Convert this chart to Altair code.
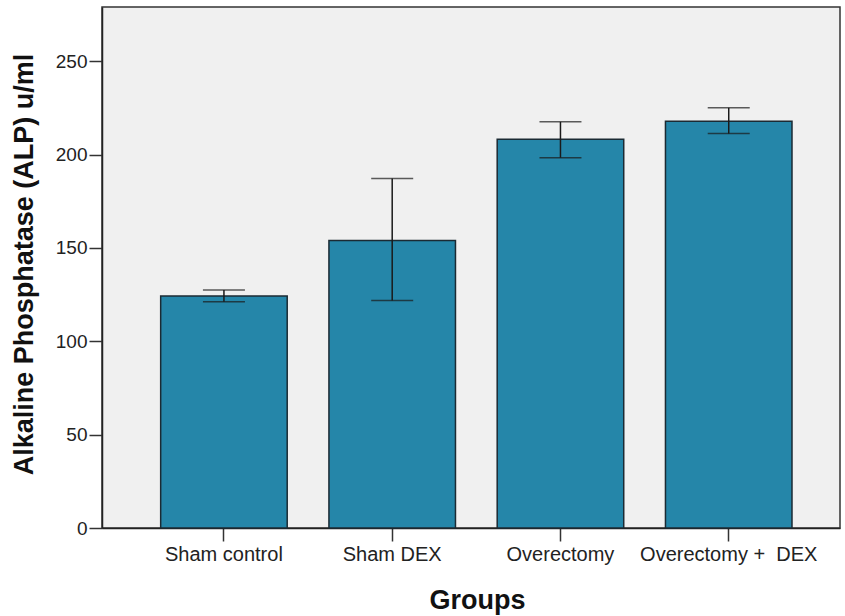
import altair as alt
import pandas as pd

# ALP levels per group (mean with error range)
groups = ["Sham control", "Sham DEX", "Overectomy", "Overectomy +\u00a0\u00a0DEX"]
means = [124.2, 154.0, 208.2, 217.8]
err_low = [121.2, 121.8, 198.3, 211.2]
err_high = [127.4, 187.2, 217.5, 225.0]
y_ticks = [0, 50, 100, 150, 200, 250]

df = pd.DataFrame({"group": groups, "mean": means, "lo": err_low, "hi": err_high})

FONT = "Liberation Sans"
INK = "#1a1a1a"

x_enc = alt.X(
    "group:N",
    sort=groups,
    scale=alt.Scale(paddingInner=0.248, paddingOuter=0.317, align=0.55),
    axis=alt.Axis(
        title="Groups",
        titleFont=FONT,
        titleFontSize=27,
        titleFontWeight="bold",
        titleColor="#111111",
        titleX=375,
        titleY=72,
        titleBaseline="middle",
        labelFont=FONT,
        labelFontSize=20,
        labelColor="#222222",
        labelAngle=0,
        labelPadding=3,
        tickSize=13,
        tickColor="#333333",
        tickWidth=1.5,
        domainColor="#222222",
        domainWidth=1.5,
    ),
)

y_scale = alt.Scale(domain=[0, 279], nice=False)

bars = alt.Chart(df).mark_bar(
    color="#2586A9", stroke="#1B2A33", strokeWidth=1.5
).encode(
    x=x_enc,
    y=alt.Y(
        "mean:Q",
        scale=y_scale,
        axis=alt.Axis(
            title="Alkaline Phosphatase (ALP) u/ml",
            titleFont=FONT,
            titleFontSize=27,
            titleFontWeight="bold",
            titleColor="#111111",
            titleX=-78,
            titleY=257,
            titleAngle=-90,
            titleBaseline="middle",
            titleAlign="center",
            values=y_ticks,
            labelFont=FONT,
            labelFontSize=19,
            labelColor="#222222",
            labelPadding=2,
            tickSize=13,
            tickColor="#333333",
            tickWidth=1.5,
            domainColor="#222222",
            domainWidth=1.5,
            grid=False,
        ),
    ),
)

stems = alt.Chart(df).mark_rule(color=INK, strokeWidth=1.5).encode(
    x=alt.X("group:N", sort=groups),
    y=alt.Y("lo:Q", scale=y_scale),
    y2="hi:Q",
)

caps_hi = alt.Chart(df).mark_tick(
    color=INK, size=42, thickness=1.5, orient="horizontal"
).encode(x=alt.X("group:N", sort=groups), y=alt.Y("hi:Q", scale=y_scale))

caps_lo = alt.Chart(df).mark_tick(
    color=INK, size=42, thickness=1.5, orient="horizontal"
).encode(x=alt.X("group:N", sort=groups), y=alt.Y("lo:Q", scale=y_scale))

chart = (
    alt.layer(bars, stems, caps_hi, caps_lo)
    .properties(
        width=738,
        height=521,
        autosize=alt.AutoSizeParams(type="none"),
        padding={"left": 102, "top": 7, "right": 5, "bottom": 88},
        background="white",
    )
    .configure_view(fill="#F0F0F0", stroke="#333333", strokeWidth=1.5)
)

chart.save("out.html", embed_options={"renderer": "svg", "actions": False})
